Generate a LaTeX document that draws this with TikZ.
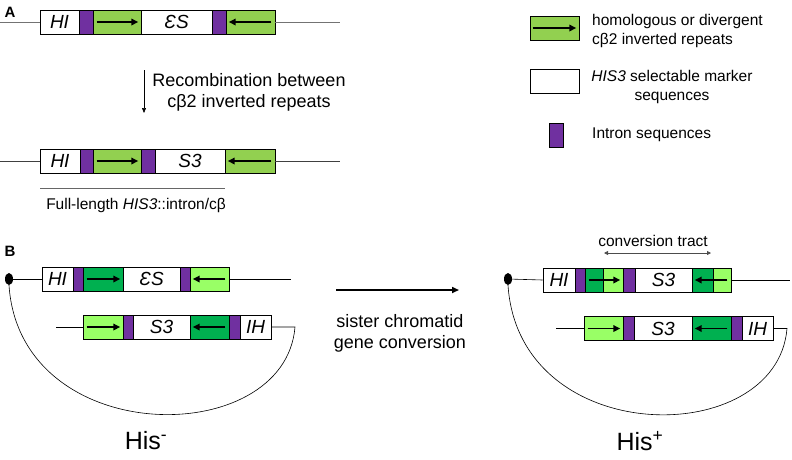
\documentclass[tikz,border=0pt]{standalone}
\usepackage{fontspec}
\setmainfont{Liberation Sans}
\usepackage{tikz}
\usetikzlibrary{arrows.meta}
\usetikzlibrary{shapes}

\definecolor{lgreen}{HTML}{92D050}
\definecolor{dgreen}{HTML}{00B050}
\definecolor{bgreen}{HTML}{99FF66}
\definecolor{intron}{HTML}{7030A0}

\begin{document}
\begin{tikzpicture}[x=1pt,y=-1pt,
    seg/.style={draw,line width=0.6pt,inner sep=0pt,minimum height=24pt,
      font=\itshape\fontsize{19}{19}\selectfont},
    wseg/.style={seg,fill=white},
    gseg/.style={seg,fill=lgreen},
    dseg/.style={seg,fill=dgreen},
    bseg/.style={seg,fill=bgreen},
    iseg/.style={seg,fill=intron},
    arr/.style={line width=1.6pt,-{Triangle[length=7pt,width=6.5pt]},
      shorten <=4pt,shorten >=3pt},
    chrom/.style={line width=0.6pt},
    txt/.style={inner sep=0pt,align=center,font=\fontsize{18}{21}\selectfont},
    ltxt/.style={inner sep=0pt,align=center,font=\fontsize{15.5}{19}\selectfont}]
  \useasboundingbox (0,0) rectangle (792,459);

  % panel A, before recombination
  \node[font=\bfseries\fontsize{15}{15}\selectfont] (labA) at (10,12) {A};
  \node[wseg,minimum width=39] (a1h) at (59.5,22) {HI};
  \node[iseg,minimum width=14] (a1i) at (86,22) {};
  \node[gseg,minimum width=48] (a1g) at (117,22) {};
  \node[wseg,minimum width=71] (a1s) at (176.5,22) {ƐS};
  \node[iseg,minimum width=14] (a1j) at (219,22) {};
  \node[gseg,minimum width=49] (a1r) at (250.5,22) {};
  \coordinate (a1l0) at (0,22);
  \coordinate (a1l1) at (340,22);
  \draw[chrom,black!55] (a1l0) -- (a1h.west);
  \draw[chrom,black!55] (a1r.east) -- (a1l1);
  \draw[arr] (a1g.west) -- (a1g.east);
  \draw[arr] (a1r.east) -- (a1r.west);

  \coordinate (dn0) at (144,70);
  \coordinate (dn1) at (144,113);
  \draw[line width=0.6pt,-{Triangle[length=5pt,width=4pt]}] (dn0) -- (dn1);
  \node[txt] (recomb) at (249,92) {Recombination between\\ cβ2 inverted repeats};

  % panel A, after recombination
  \node[wseg,minimum width=40] (a2h) at (60,161) {HI};
  \node[iseg,minimum width=13] (a2i) at (86.5,161) {};
  \node[gseg,minimum width=48] (a2g) at (117,161) {};
  \node[iseg,minimum width=14] (a2j) at (148,161) {};
  \node[wseg,minimum width=70] (a2s) at (190,161) {S3};
  \node[gseg,minimum width=50] (a2r) at (250,161) {};
  \coordinate (a2l0) at (0,161);
  \coordinate (a2l1) at (340,161);
  \draw[chrom,black!75] (a2l0) -- (a2h.west);
  \draw[chrom,black!75] (a2r.east) -- (a2l1);
  \draw[arr] (a2g.west) -- (a2g.east);
  \draw[arr] (a2r.east) -- (a2r.west);

  \coordinate (fl0) at (40,188);
  \coordinate (fl1) at (225,188);
  \draw[chrom,black!60] (fl0) -- (fl1);
  \node[ltxt] (flen) at (136,205) {Full-length \textit{HIS3}::intron/cβ};

  % legend
  \node[gseg,minimum width=49] (lg) at (554.5,28) {};
  \draw[line width=1.6pt,-{Triangle[length=7pt,width=6.5pt]},shorten <=3pt,shorten >=3pt] (lg.west) -- (lg.east);
  \node[ltxt,anchor=west,align=left] (lgt) at (592,31) {homologous or divergent\\ cβ2 inverted repeats};
  \node[wseg,minimum width=49] (lw) at (554.5,81) {};
  \node[ltxt] (lwt) at (672,87) {\textit{HIS3} selectable marker\\ sequences};
  \node[iseg,minimum width=14] (lp) at (556,135) {};
  \node[ltxt,anchor=west] (lpt) at (592,135) {Intron sequences};

  % panel B, His-
  \node[font=\bfseries\fontsize{15}{15}\selectfont] (labB) at (10,251) {B};
  \node[ellipse,fill=black,inner sep=0pt,minimum width=8,minimum height=12] (dl) at (9,279) {};
  \begin{scope}[every node/.append style={minimum height=22}]
    \node[wseg,minimum width=31] (b1h) at (57.5,279) {HI};
    \node[iseg,minimum width=10] (b1i) at (78,279) {};
    \node[dseg,minimum width=40] (b1g) at (103,279) {};
    \node[wseg,minimum width=57] (b1s) at (151.5,279) {ƐS};
    \node[iseg,minimum width=10] (b1j) at (185,279) {};
    \node[bseg,minimum width=39] (b1r) at (209.5,279) {};

    \node[bseg,minimum width=40] (b2r) at (103,327) {};
    \node[iseg,minimum width=10] (b2j) at (128,327) {};
    \node[wseg,minimum width=57] (b2s) at (161.5,327) {S3};
    \node[dseg,minimum width=39] (b2g) at (209.5,327) {};
    \node[iseg,minimum width=11] (b2i) at (234.5,327) {};
    \node[wseg,minimum width=31] (b2h) at (255.5,327) {IH};
  \end{scope}
  \coordinate (b1l1) at (291,279);
  \coordinate (b2l0) at (56,327);
  \coordinate (b2l1) at (295,327);
  \draw[chrom] (dl) -- (b1h.west);
  \draw[chrom] (b1r.east) -- (b1l1);
  \draw[chrom] (b2l0) -- (b2r.west);
  \draw[chrom] (b2h.east) -- (b2l1) .. controls (285,450) and (20,450) .. (dl.south);
  \draw[arr] (b1g.west) -- (b1g.east);
  \draw[arr] (b1r.east) -- (b1r.west);
  \draw[arr] (b2r.west) -- (b2r.east);
  \draw[arr] (b2g.east) -- (b2g.west);

  % conversion
  \coordinate (cv0) at (336,290);
  \coordinate (cv1) at (459,290);
  \draw[line width=1.6pt,-{Triangle[length=7pt,width=6pt]}] (cv0) -- (cv1);
  \node[txt] (conv) at (400,333) {sister chromatid\\ gene conversion};

  % panel B, His+
  \node[ellipse,fill=black,inner sep=0pt,minimum width=8,minimum height=12] (dr) at (508,279) {};
  \begin{scope}[every node/.append style={minimum height=22}]
    \node[wseg,minimum width=32] (c1h) at (559,280) {HI};
    \node[iseg,minimum width=10] (c1i) at (580,280) {};
    \node[dseg,minimum width=18] (c1g) at (594,280) {};
    \node[bseg,minimum width=20] (c1l) at (613,280) {};
    \node[iseg,minimum width=12] (c1j) at (629,280) {};
    \node[wseg,minimum width=57] (c1s) at (663.5,280) {S3};
    \node[dseg,minimum width=21] (c1d) at (702.5,280) {};
    \node[bseg,minimum width=18] (c1m) at (722,280) {};

    \node[bseg,minimum width=39] (c2r) at (603.5,328.5) {};
    \node[iseg,minimum width=11] (c2j) at (628.5,328.5) {};
    \node[wseg,minimum width=58] (c2s) at (663,328.5) {S3};
    \node[dseg,minimum width=39] (c2g) at (711.5,328.5) {};
    \node[iseg,minimum width=11] (c2i) at (736.5,328.5) {};
    \node[wseg,minimum width=31] (c2h) at (757.5,328.5) {IH};
  \end{scope}
  \coordinate (c1l1) at (790,280);
  \coordinate (c2l0) at (556,328.5);
  \coordinate (c2l1) at (787,328.5);
  \draw[chrom] (dr) -- (c1h.west);
  \draw[chrom] (c1m.east) -- (c1l1);
  \draw[chrom] (c2l0) -- (c2r.west);
  \draw[chrom] (c2h.east) -- (c2l1) .. controls (777,450) and (519,450) .. (dr.south);
  \draw[arr] (c1g.west) -- (c1l.east);
  \draw[arr] (c1m.east) -- (c1d.west);
  \draw[arr] (c2r.west) -- (c2r.east);
  \draw[arr] (c2g.east) -- (c2g.west);

  \coordinate (ct0) at (604,253);
  \coordinate (ct1) at (711,253);
  \draw[line width=0.8pt,black!70,{Triangle[length=4pt,width=4pt]}-{Triangle[length=4pt,width=4pt]}] (ct0) -- (ct1);
  \node[ltxt] (ctr) at (653,241) {conversion tract};

  \node[font=\fontsize{25}{25}\selectfont] (hism) at (146,441) {His\textsuperscript{-}};
  \node[font=\fontsize{25}{25}\selectfont] (hisp) at (640,441) {His\textsuperscript{+}};
\end{tikzpicture}
\end{document}
